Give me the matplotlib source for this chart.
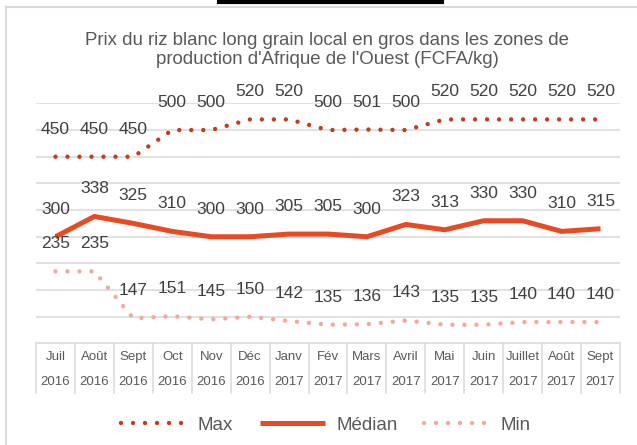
import matplotlib
matplotlib.use("Agg")
import matplotlib.pyplot as plt
from matplotlib.lines import Line2D
import numpy as np

months = ["Juil", "Août", "Sept", "Oct", "Nov", "Déc", "Janv", "Fév", "Mars",
          "Avril", "Mai", "Juin", "Juillet", "Août", "Sept"]
years = ["2016"] * 6 + ["2017"] * 9
max_vals = [450, 450, 450, 500, 500, 520, 520, 500, 501, 500, 520, 520, 520, 520, 520]
med_vals = [300, 338, 325, 310, 300, 300, 305, 305, 300, 323, 313, 330, 330, 310, 315]
min_vals = [235, 235, 147, 151, 145, 150, 142, 135, 136, 143, 135, 135, 140, 140, 140]

plt.rcParams['font.family'] = ['Liberation Sans', 'DejaVu Sans']

c_max = "#C23B22"
c_med = "#E84A24"
c_min = "#F3A89E"
c_grid = "#D9D9D9"
c_txt = "#404040"
c_lab = "#595959"

fig = plt.figure(figsize=(6.37, 4.45), dpi=100)
ax = fig.add_axes([36 / 637, 1 - 343.4 / 445, 584 / 637, 240 / 445])

x = np.arange(len(months))
dots = (0, (0.001, 2.7))

ax.plot(x, max_vals, color=c_max, lw=3.2, linestyle=dots, dash_capstyle='round',
        label="Max", clip_on=False)
ax.plot(x, med_vals, color=c_med, lw=3.6, solid_capstyle='butt', solid_joinstyle='round',
        label="Médian", clip_on=False)
ax.plot(x, min_vals, color=c_min, lw=3.2, linestyle=dots, dash_capstyle='round',
        label="Min", clip_on=False)

for series in (max_vals, med_vals, min_vals):
    for xi, v in zip(x, series):
        ax.annotate(str(v), (xi, v), xytext=(0, 19.8), textcoords='offset points',
                    ha='center', va='center', fontsize=12.5, color=c_txt,
                    annotation_clip=False)

ax.set_xlim(-0.5, len(months) - 0.5)
ax.set_ylim(100, 550)
ax.set_yticks(np.arange(150, 551, 50))
ax.yaxis.grid(True, color=c_grid, lw=1.1)
ax.set_axisbelow(True)
ax.tick_params(left=False, bottom=False, labelleft=False, labelbottom=False)
for s in ("left", "right", "top"):
    ax.spines[s].set_visible(False)
ax.spines["bottom"].set_color(c_grid)
ax.spines["bottom"].set_linewidth(1.1)

# category table under the axis
trans = ax.get_xaxis_transform()
for b in np.arange(len(months) + 1) - 0.5:
    ax.plot([b, b], [0, -50 / 240], transform=trans, color=c_grid, lw=1.1, clip_on=False)
for xi, m, yr in zip(x, months, years):
    ax.text(xi, -14 / 240, m, transform=trans, ha='center', va='center',
            fontsize=9.5, color=c_lab)
    ax.text(xi, -39 / 240, yr, transform=trans, ha='center', va='center',
            fontsize=9.5, color=c_lab)

fig.text(327 / 637, 1 - 50 / 445,
         "Prix du riz blanc long grain local en gros dans les zones de\n"
         "production d'Afrique de l'Ouest (FCFA/kg)",
         ha='center', va='center', fontsize=13.4, color=c_lab, linespacing=1.17)

leg = fig.legend(loc='center', bbox_to_anchor=(326 / 637, 1 - 425 / 445), ncol=3,
                 frameon=False, fontsize=13.5, handlelength=3.5, handletextpad=0.6,
                 columnspacing=1.4, labelcolor=c_lab)

# chart border and cropped bar at top
fig.add_artist(Line2D([6 / 637, 6 / 637], [0, 1 - 7 / 445], color=c_grid, lw=1.5))
fig.add_artist(Line2D([6 / 637, 1], [1 - 7 / 445, 1 - 7 / 445], color=c_grid, lw=1.5))
fig.add_artist(Line2D([219 / 637, 442 / 637], [1 - 2 / 445, 1 - 2 / 445], color="black", lw=3))

fig.savefig("out.png", dpi=100)
